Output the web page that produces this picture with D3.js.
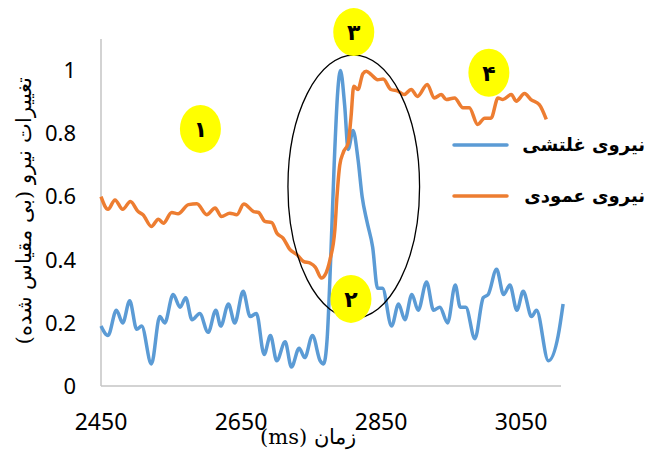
<!DOCTYPE html>
<html>
<head>
<meta charset="utf-8">
<script src="https://cdn.jsdelivr.net/npm/d3@7"></script>
<style>
  body { margin: 0; background: #fff; }
  svg { display: block; }
</style>
</head>
<body>
<svg></svg>
<script>
// داده‌ها
const tRolling = [2450,2460,2472,2481,2491,2501,2508,2522,2534,2541,2553,2563,2571,2580,2591,2603,2614,2621,2632,2641,2653,2663,2672,2683,2692,2701,2713,2722,2733,2741,2752,2763,2768,2773,2778,2783,2788,2792,2798,2803,2810,2817,2823,2830,2838,2845,2852,2865,2875,2884,2894,2903,2915,2925,2934,2945,2956,2963,2971,2984,2996,3003,3015,3025,3034,3044,3053,3065,3072,3089,3103,3110];
const vRolling = [0.19,0.16,0.24,0.20,0.27,0.18,0.19,0.07,0.22,0.20,0.29,0.25,0.28,0.21,0.23,0.17,0.24,0.19,0.26,0.20,0.30,0.22,0.23,0.10,0.16,0.08,0.14,0.06,0.12,0.09,0.16,0.08,0.07,0.15,0.40,0.70,0.93,1.00,0.89,0.75,0.81,0.72,0.60,0.52,0.44,0.31,0.31,0.19,0.26,0.21,0.29,0.24,0.33,0.24,0.25,0.20,0.32,0.25,0.25,0.15,0.28,0.29,0.37,0.29,0.32,0.24,0.30,0.22,0.24,0.08,0.16,0.26];

const tNormal = [2450,2460,2470,2481,2492,2503,2510,2522,2532,2539,2551,2560,2575,2587,2601,2613,2622,2634,2644,2654,2668,2675,2684,2694,2701,2710,2720,2730,2739,2749,2756,2765,2770,2777,2784,2787,2791,2796,2803,2807,2811,2817,2824,2829,2836,2845,2853,2864,2874,2883,2893,2902,2916,2926,2936,2943,2955,2967,2976,2988,2998,3007,3017,3024,3036,3043,3055,3064,3076,3086];
const vNormal = [0.60,0.56,0.59,0.56,0.585,0.553,0.543,0.506,0.529,0.516,0.55,0.546,0.575,0.578,0.543,0.564,0.537,0.548,0.543,0.577,0.553,0.55,0.522,0.518,0.485,0.469,0.432,0.416,0.395,0.389,0.377,0.342,0.352,0.40,0.495,0.60,0.70,0.74,0.77,0.85,0.95,0.94,0.99,0.998,0.987,0.971,0.973,0.94,0.935,0.924,0.94,0.918,0.956,0.913,0.924,0.908,0.913,0.882,0.882,0.829,0.849,0.849,0.913,0.908,0.924,0.903,0.927,0.908,0.892,0.845];

const xTicks = [2450, 2650, 2850, 3050];
const yTicks = [0, 0.2, 0.4, 0.6, 0.8, 1];
const seriesNames = ["نیروی غلتشی", "نیروی عمودی"];
const colors = ["#5B9BD5", "#ED7D31"];

// شماره‌های زرد: زمان، مقدار، برچسب
const markT = [2592, 2807, 2811, 3004];
const markV = [0.815, 0.276, 1.122, 0.993];
const markLabels = ["۱", "۲", "۳", "۴"];

// بیضی دور قله
const ringT = [2717, 2905];
const ringV = [0.215, 1.049];

const svgSize = { width: 659, height: 452 };
const svg = d3.select("svg")
   .attr("width", svgSize.width)
   .attr("height", svgSize.height);

const x = d3.scaleLinear().domain([2450, 3107]).range([101, 561]);
const y = d3.scaleLinear().domain([0, 1.1]).range([386, 39]);

// محورها
svg.append("line")
   .attr("x1", x.range()[0]).attr("x2", x.range()[0])
   .attr("y1", y.range()[0]).attr("y2", y.range()[1])
   .attr("stroke", "#c4c4c4").attr("stroke-width", 1.5);
svg.append("line")
   .attr("x1", x.range()[0]).attr("x2", x.range()[1])
   .attr("y1", y.range()[0]).attr("y2", y.range()[0])
   .attr("stroke", "#c4c4c4").attr("stroke-width", 1.5);

svg.append("g").selectAll("text")
   .data(yTicks)
   .enter().append("text")
   .attr("x", 76)
   .attr("y", d => y(d))
   .attr("dy", "0.35em")
   .attr("text-anchor", "end")
   .style("font-family", "'Noto Sans', sans-serif")
   .style("font-size", "22px")
   .text(d => d);

svg.append("g").selectAll("text")
   .data(xTicks)
   .enter().append("text")
   .attr("x", d => x(d))
   .attr("y", 430)
   .attr("text-anchor", "middle")
   .style("font-family", "'Noto Sans', sans-serif")
   .style("font-size", "23px")
   .text(d => d);

// عنوان محورها
svg.append("text")
   .attr("transform", "translate(31,211) rotate(-90)")
   .attr("direction", "rtl")
   .attr("text-anchor", "middle")
   .style("font-family", "'DejaVu Serif', serif")
   .style("font-size", "21px")
   .text("تغییرات نیرو (بی مقیاس شده)");

svg.append("text")
   .attr("x", 308).attr("y", 444)
   .attr("direction", "rtl")
   .attr("text-anchor", "middle")
   .style("font-family", "'DejaVu Serif', serif")
   .style("font-size", "21px")
   .text("زمان (ms)");

// خطوط
const line = d3.line()
   .x(d => x(d[0]))
   .y(d => y(d[1]))
   .curve(d3.curveMonotoneX);

const series = [d3.zip(tRolling, vRolling), d3.zip(tNormal, vNormal)];
svg.append("g").selectAll("path")
   .data(series)
   .enter().append("path")
   .attr("d", line)
   .attr("fill", "none")
   .attr("stroke", (d, i) => colors[i])
   .attr("stroke-width", 3.5)
   .attr("stroke-linejoin", "round");

// راهنما
const legend = svg.append("g").selectAll("g")
   .data(seriesNames)
   .enter().append("g")
   .attr("transform", (d, i) => `translate(0,${145 + i * 51})`);
legend.append("line")
   .attr("x1", 454).attr("x2", 507)
   .attr("stroke", (d, i) => colors[i])
   .attr("stroke-width", 3.5)
   .attr("stroke-linecap", "round");
legend.append("text")
   .attr("x", 645).attr("y", 6)
   .attr("text-anchor", "end")
   .style("font-family", "'DejaVu Sans', sans-serif")
   .style("font-weight", "bold")
   .style("font-size", "18px")
   .text(d => d);

// بیضی
svg.append("ellipse")
   .attr("cx", x((ringT[0] + ringT[1]) / 2))
   .attr("cy", y((ringV[0] + ringV[1]) / 2))
   .attr("rx", (x(ringT[1]) - x(ringT[0])) / 2)
   .attr("ry", (y(ringV[0]) - y(ringV[1])) / 2)
   .attr("fill", "none")
   .attr("stroke", "#000")
   .attr("stroke-width", 1.3);

// دایره‌های شماره
const marks = svg.append("g").selectAll("g")
   .data(markLabels)
   .enter().append("g")
   .attr("transform", (d, i) => `translate(${x(markT[i])},${y(markV[i])})`);
marks.append("ellipse")
   .attr("rx", 20.5).attr("ry", 24)
   .attr("fill", "#FFFF00");
marks.append("text")
   .attr("y", 8)
   .attr("text-anchor", "middle")
   .style("font-family", "'DejaVu Sans', sans-serif")
   .style("font-weight", "bold")
   .style("font-size", "22px")
   .text(d => d);
</script>
</body>
</html>
